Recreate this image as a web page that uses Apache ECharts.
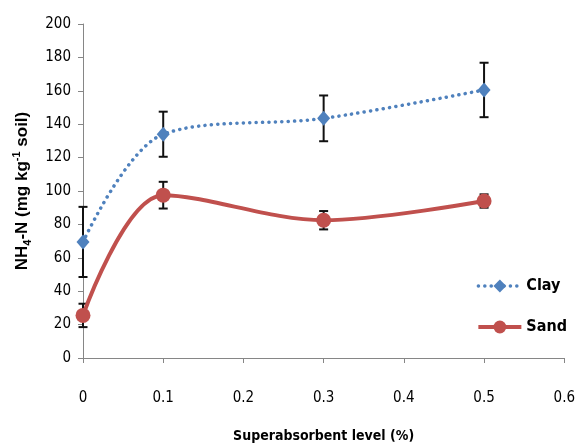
<!DOCTYPE html>
<html>
<head>
    <meta charset="utf-8">
    <title>NH4-N</title>
    <script src="https://cdn.jsdelivr.net/npm/echarts@6/dist/echarts.min.js"></script>
    <style type="text/css">
        html, body { margin: 0; padding: 0; background: #fff; }
        #chart { width: 578px; height: 448px; }
    </style>
</head>
<body>
    <div id="chart"></div>
    <script type="text/javascript">
        // superabsorbent level (%)
        var levels = [0, 0.1, 0.3, 0.5];
        var clayMean = [69.5, 134, 143.5, 160.5];
        var clayErr = [21, 13.5, 13.7, 16.3];
        var sandMean = [25.5, 97.5, 82.5, 94];
        var sandErr = [7, 8, 5.5, 4];
        var xTicks = [0, 0.1, 0.2, 0.3, 0.4, 0.5, 0.6];

        var font = "'Liberation Sans Narrow', 'DejaVu Sans Condensed', sans-serif";
        var titleFont = "'Liberation Sans', Arial, sans-serif";

        function pairs(vals) {
            return levels.map(function (x, i) { return [x, vals[i]]; });
        }
        function bars(mean, err) {
            return levels.map(function (x, i) { return [x, mean[i] - err[i], mean[i] + err[i]]; });
        }
        function errorBar(params, api) {
            var lo = api.coord([api.value(0), api.value(1)]);
            var hi = api.coord([api.value(0), api.value(2)]);
            var w = 4.5;
            var style = { stroke: '#111', lineWidth: 2 };
            return {
                type: 'group',
                children: [
                    { type: 'line', shape: { x1: lo[0], y1: lo[1], x2: hi[0], y2: hi[1] }, style: style },
                    { type: 'line', shape: { x1: lo[0] - w, y1: lo[1], x2: lo[0] + w, y2: lo[1] }, style: style },
                    { type: 'line', shape: { x1: hi[0] - w, y1: hi[1], x2: hi[0] + w, y2: hi[1] }, style: style }
                ]
            };
        }

        var chart = echarts.init(document.getElementById('chart'));
        chart.setOption({
            animation: false,
            backgroundColor: '#fff',
            grid: { left: 83, right: 12, top: 24, bottom: 88 },
            // y axis title, with sub- and superscript
            graphic: [{
                type: 'text',
                x: 22,
                y: 191,
                rotation: Math.PI / 2,
                style: {
                    text: '{b|NH}{s|4}{b|-N (mg kg}{p|-1}{b| soil)}',
                    align: 'center',
                    verticalAlign: 'middle',
                    rich: {
                        b: { fontFamily: titleFont, fontSize: 17, fontWeight: 'bold', fill: '#000', lineHeight: 22, verticalAlign: 'middle' },
                        s: { fontFamily: titleFont, fontSize: 11, fontWeight: 'bold', fill: '#000', lineHeight: 22, verticalAlign: 'bottom' },
                        p: { fontFamily: titleFont, fontSize: 11, fontWeight: 'bold', fill: '#000', lineHeight: 22, verticalAlign: 'top' }
                    }
                }
            }],
            legend: {
                orient: 'vertical',
                right: 6,
                top: 273,
                itemWidth: 43,
                itemHeight: 16,
                itemGap: 25,
                data: ['Clay', 'Sand'],
                lineStyle: { width: 'inherit' },
                textStyle: { fontFamily: font, fontSize: 16, fontWeight: 'bold', color: '#000' }
            },
            xAxis: {
                type: 'value',
                min: 0,
                max: 0.6,
                interval: 0.1,
                name: 'Superabsorbent level (%)',
                nameLocation: 'middle',
                nameGap: 71,
                nameTextStyle: { fontFamily: font, fontSize: 14, fontWeight: 'bold', color: '#000' },
                axisLine: { lineStyle: { color: '#868686', width: 1 } },
                axisTick: { show: true, length: 5, lineStyle: { color: '#868686' } },
                splitLine: { show: false },
                axisLabel: {
                    margin: 33,
                    fontFamily: font,
                    fontSize: 15,
                    color: '#000',
                    formatter: function (v) { return String(Math.round(v * 10) / 10); }
                }
            },
            yAxis: {
                type: 'value',
                min: 0,
                max: 200,
                interval: 20,
                axisLine: { show: true, lineStyle: { color: '#868686', width: 1 } },
                axisTick: { show: true, length: 5, lineStyle: { color: '#868686' } },
                splitLine: { show: false },
                axisLabel: { margin: 12, fontFamily: font, fontSize: 15, color: '#000' }
            },
            series: [
                {
                    type: 'custom',
                    name: 'clayErr',
                    renderItem: errorBar,
                    encode: { x: 0, y: [1, 2] },
                    data: bars(clayMean, clayErr),
                    z: 1
                },
                {
                    type: 'custom',
                    name: 'sandErr',
                    renderItem: errorBar,
                    encode: { x: 0, y: [1, 2] },
                    data: bars(sandMean, sandErr),
                    z: 1
                },
                {
                    name: 'Clay',
                    type: 'line',
                    smooth: 0.33,
                    data: pairs(clayMean),
                    symbol: 'diamond',
                    symbolSize: [13, 15],
                    itemStyle: { color: '#4F81BD' },
                    lineStyle: { color: '#4F81BD', width: 3.5, type: [0.1, 6.3], cap: 'round' },
                    z: 3
                },
                {
                    name: 'Sand',
                    type: 'line',
                    smooth: 0.33,
                    data: pairs(sandMean),
                    symbol: 'circle',
                    symbolSize: 15,
                    itemStyle: { color: '#C0504D' },
                    lineStyle: { color: '#C0504D', width: 4 },
                    z: 3
                }
            ]
        });
    </script>
</body>
</html>
